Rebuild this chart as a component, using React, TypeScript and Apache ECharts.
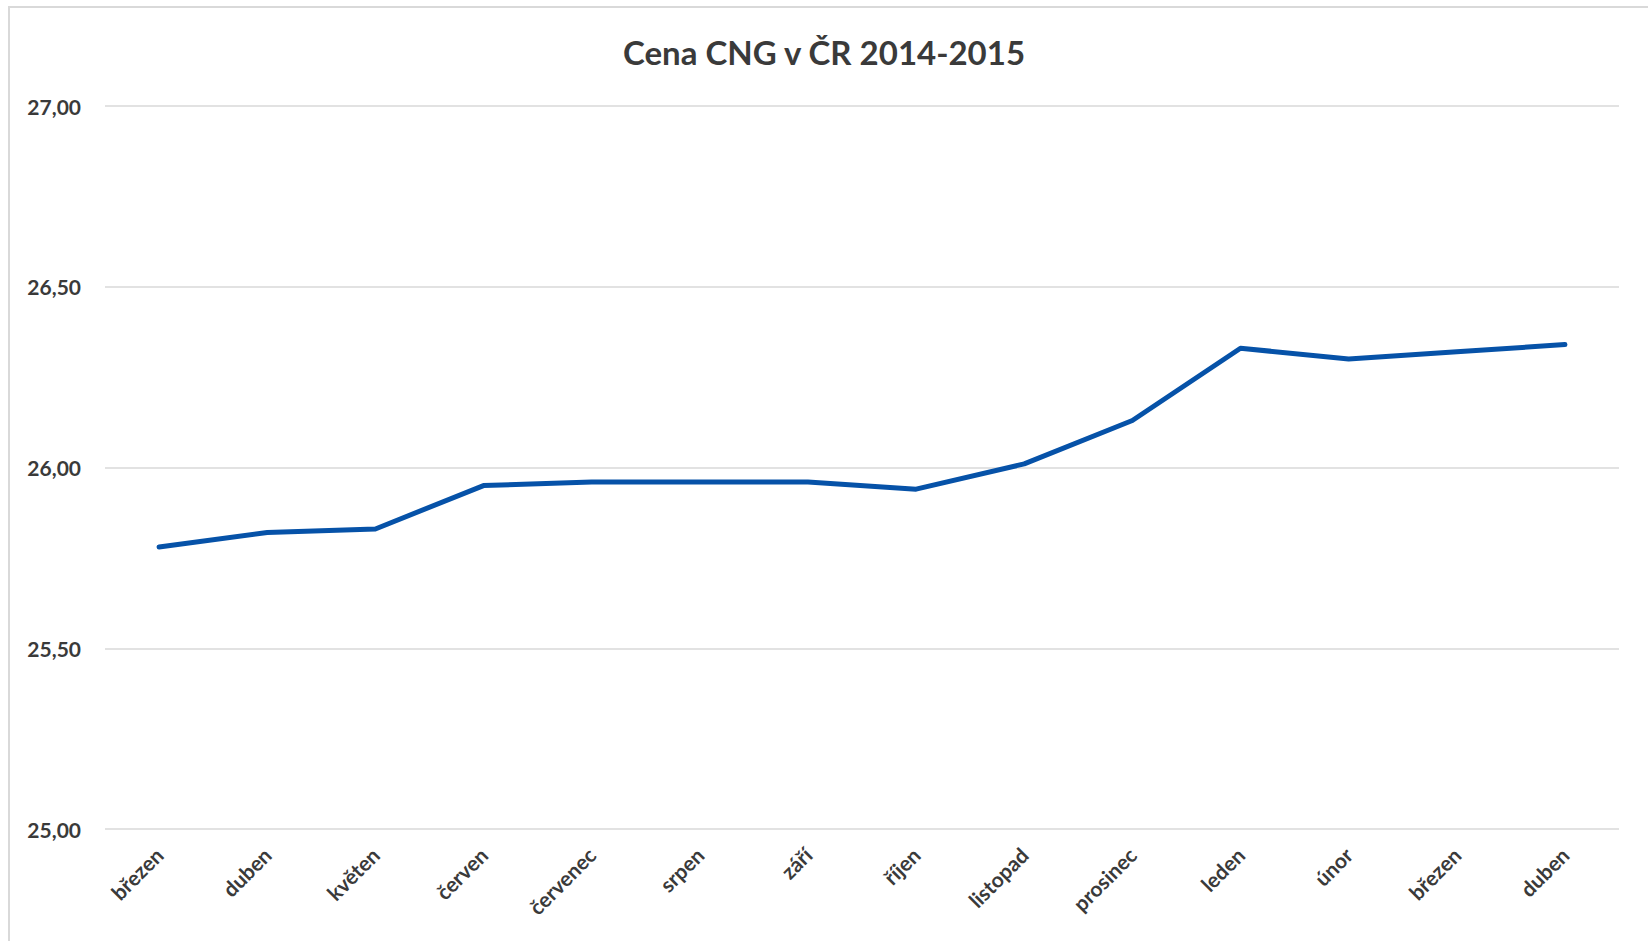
import React, { useEffect, useRef } from "react";
import * as echarts from "echarts";

const title = "Cena CNG v ČR 2014-2015";
const months = [
  "březen", "duben", "květen", "červen", "červenec", "srpen", "září",
  "říjen", "listopad", "prosinec", "leden", "únor", "březen", "duben",
];
const prices = [
  25.78, 25.82, 25.83, 25.95, 25.96, 25.96, 25.96,
  25.94, 26.01, 26.13, 26.33, 26.3, 26.32, 26.34,
];
const yMin = 25;
const yMax = 27;
const yStep = 0.5;

export default function App() {
  const ref = useRef<HTMLDivElement>(null);
  useEffect(() => {
    if (!ref.current) return;
    const chart = echarts.init(ref.current, null, { renderer: "svg" });
    const font = "Lato, 'Open Sans', 'DejaVu Sans', sans-serif";
    chart.setOption({
      animation: false,
      backgroundColor: "#ffffff",
      title: {
        text: title,
        left: "center",
        top: 30,
        textStyle: { fontFamily: font, fontWeight: "bold", fontSize: 33, color: "#3a3a3a" },
      },
      graphic: [
        {
          type: "rect",
          shape: { x: 9, y: 7, width: 1700, height: 1000 },
          style: { fill: "none", stroke: "#d9d9d9", lineWidth: 2 },
          silent: true,
        },
      ],
      grid: { left: 105, right: 29, top: 106, bottom: 112, containLabel: false },
      xAxis: {
        type: "category",
        data: months,
        boundaryGap: true,
        axisLine: { show: false },
        axisTick: { show: false },
        axisLabel: {
          rotate: 45,
          interval: 0,
          margin: 22,
          fontFamily: font,
          fontWeight: "bold",
          fontSize: 21,
          color: "#3a3a3a",
        },
      },
      yAxis: {
        type: "value",
        min: yMin,
        max: yMax,
        interval: yStep,
        axisLine: { show: false },
        axisTick: { show: false },
        splitLine: { lineStyle: { color: "#d9d9d9", width: 1.5 } },
        axisLabel: {
          margin: 24,
          fontFamily: font,
          fontWeight: "bold",
          fontSize: 21,
          color: "#3a3a3a",
          formatter: (v: number) => v.toFixed(2).replace(".", ","),
        },
      },
      series: [
        {
          type: "line",
          data: prices,
          showSymbol: false,
          symbol: "none",
          lineStyle: { color: "#0652a8", width: 5, cap: "round", join: "round" },
        },
      ],
    });
    return () => chart.dispose();
  }, []);
  return (
    <div
      ref={ref}
      style={{ position: "absolute", left: 0, top: 0, width: 1648, height: 941 }}
    />
  );
}
